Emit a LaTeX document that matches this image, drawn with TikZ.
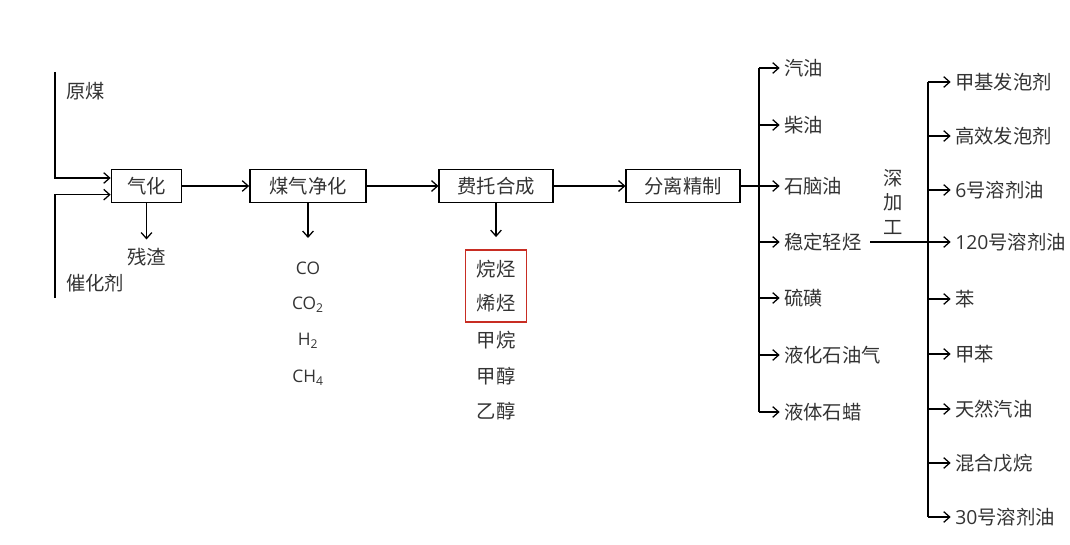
\documentclass[tikz,border=0pt]{standalone}
\usepackage{fontspec}
\setmainfont{Noto Sans CJK SC}
\newfontfamily\latin{Open Sans}
\usetikzlibrary{arrows.meta}
\definecolor{redbox}{RGB}{200,45,35}

\begin{document}
\begin{tikzpicture}[x=0.75pt,y=-0.75pt,>={Straight Barb[length=4.5pt,width=8pt]},
                    line width=0.95pt,font=\fontsize{14.5}{17}\selectfont]
  \tikzstyle{proc}=[draw=black,line width=1.3pt,minimum height=24.75pt,text=black!80]
  \tikzstyle{lbl}=[text=black!80,inner sep=2pt]
  \useasboundingbox (0,0) rectangle (1070,545);

  % main chain
  \node[proc,minimum width=52.5pt] (gas)   at (146.5,186) {气化};
  \node[proc,minimum width=87pt]   (clean) at (308,186)   {煤气净化};
  \node[proc,minimum width=85pt]   (ft)    at (496,186)   {费托合成};
  \node[proc,minimum width=85pt]   (sep)   at (683,186)   {分离精制};

  \path[->] (gas) edge (clean)
            (clean) edge (ft)
            (ft) edge (sep);

  % feeds
  \node[lbl,anchor=west] (coal) at (63,91)  {原煤};
  \node[lbl,anchor=west] (cat)  at (63,283) {催化剂};
  \coordinate (coalTop) at (55,72);
  \coordinate (catBot)  at (55,298);
  \draw[->] (coalTop) |- ([yshift=6pt]gas.west);
  \draw[->] (catBot) |- ([yshift=-6.5pt]gas.west);

  % by-products
  \node[lbl] (slag) at (146.5,257) {残渣};
  \draw[->,shorten >=4pt] (gas) -- (slag);

  \coordinate (cleanOut) at (308,238);
  \draw[->] (clean) -- (cleanOut);
  \node[lbl,font=\latin\fontsize{13}{15}\selectfont] (co)  at (308,268) {CO};
  \node[lbl,font=\latin\fontsize{13}{15}\selectfont] (co2) at (308,305) {CO\textsubscript{2}};
  \node[lbl,font=\latin\fontsize{13}{15}\selectfont] (h2)  at (308,341) {H\textsubscript{2}};
  \node[lbl,font=\latin\fontsize{13}{15}\selectfont] (ch4) at (308,378) {CH\textsubscript{4}};

  \node[draw=redbox,line width=1.4pt,minimum width=45.75pt,minimum height=54pt,
        align=center,text=black!80,font=\fontsize{14.5}{26}\selectfont] (hc) at (496,286) {烷烃\\烯烃};
  \draw[->,shorten >=9pt] (ft) -- (hc);
  \node[lbl] (methane)  at (496,340) {甲烷};
  \node[lbl] (methanol) at (496,376) {甲醇};
  \node[lbl] (ethanol)  at (496,411) {乙醇};

  % separation products
  \foreach \name/\y/\txt in {gasoline/68/汽油,diesel/125/柴油,naphtha/186/石脑油,
                             light/242/稳定轻烃,sulfur/298/硫磺,lpg/355/液化石油气,wax/412/液体石蜡}
  {
    \coordinate (b\name) at (759,\y);
    \node[lbl,anchor=west] (p\name) at (781,\y) {\txt};
    \draw[->,shorten >=1pt] (b\name) -- (p\name.west);
  }
  \draw (bgasoline) -- (bwax);
  \draw (sep) -- (bnaphtha);

  % deep processing
  \node[lbl,align=center,font=\fontsize{14.5}{18.5}\selectfont] (deep) at (893,202) {深\\加\\工};
  \foreach \name/\y/\txt in {foamA/82/甲基发泡剂,foamB/136/高效发泡剂,solvA/190/{\latin 6}号溶剂油,
                             solvB/242/{\latin 120}号溶剂油,benz/299/苯,tol/354/甲苯,
                             natgas/409/天然汽油,pent/463/混合戊烷,solvC/517/{\latin 30}号溶剂油}
  {
    \coordinate (d\name) at (928,\y);
    \node[lbl,anchor=west] (q\name) at (952,\y) {\txt};
    \draw[->,shorten >=1pt] (d\name) -- (q\name.west);
  }
  \draw (dfoamA) -- (dsolvC);
  \draw ([xshift=4pt]plight.east) -- (dsolvB);
\end{tikzpicture}
\end{document}
